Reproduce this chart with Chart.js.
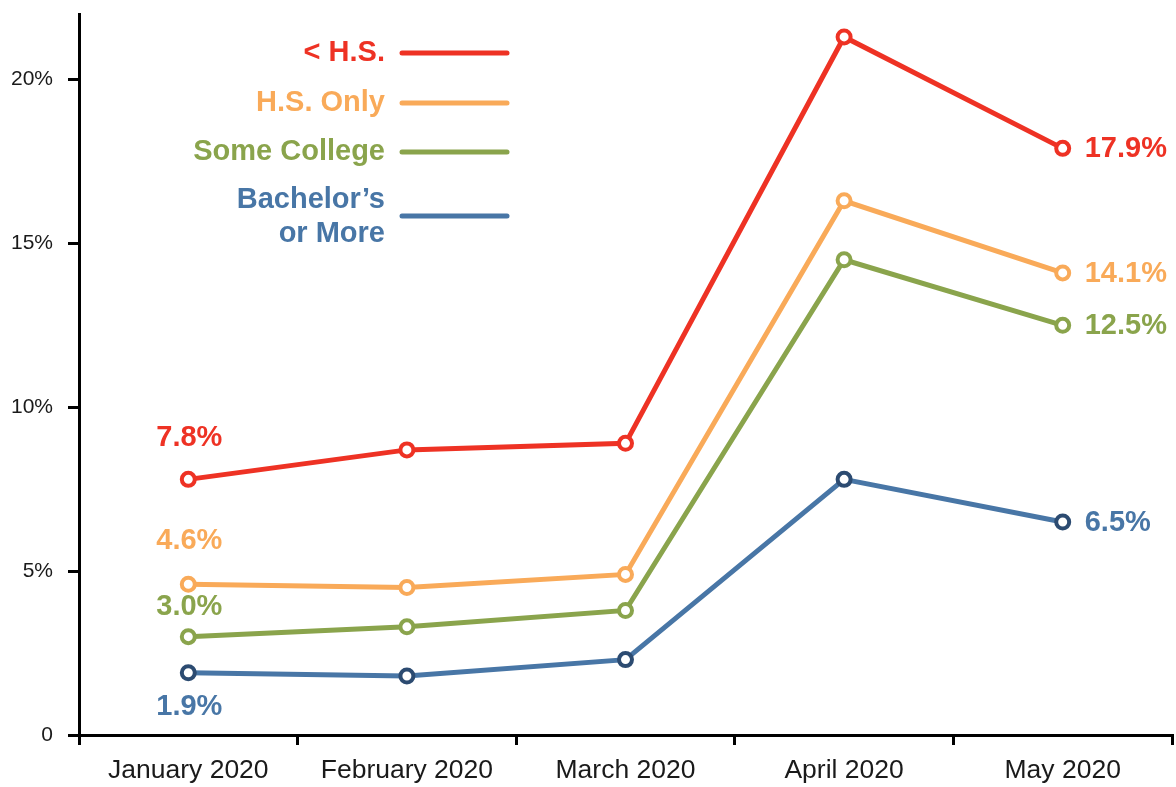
<!DOCTYPE html>
<html>
<head>
<meta charset="utf-8">
<script src="https://cdn.jsdelivr.net/npm/chart.js@4.4.1/dist/chart.umd.min.js"></script>
<style>
html,body{margin:0;padding:0;background:#fff;}
#wrap{width:1176px;height:787px;position:relative;}
</style>
</head>
<body>
<div id="wrap"><canvas id="c" width="1176" height="787"></canvas></div>
<script>
// ---- data ----
const months = ["January 2020", "February 2020", "March 2020", "April 2020", "May 2020"];
const seriesNames = ["< H.S.", "H.S. Only", "Some College", "Bachelor's or More"];
const lessHS = [7.8, 8.7, 8.9, 21.3, 17.9];
const hsOnly = [4.6, 4.5, 4.9, 16.3, 14.1];
const someCollege = [3.0, 3.3, 3.8, 14.5, 12.5];
const bachelors = [1.9, 1.8, 2.3, 7.8, 6.5];
const yTicks = [0, 5, 10, 15, 20];

// ---- styles ----
const colors = ["#ee3224", "#f9aa59", "#8aa44c", "#4876a6"];
const pointColors = ["#ee3224", "#f9aa59", "#8aa44c", "#2c4b71"];
const FONT = "'Liberation Sans', Arial, Helvetica, sans-serif";

const values = [lessHS, hsOnly, someCollege, bachelors];

// label placement relative to points (first = January, last = May)
const firstLabelDy = [-41, -43, -30, 34];
const lastLabelDx = 22;

const labelPlugin = {
  id: 'labels',
  afterDatasetsDraw(chart) {
    const ctx = chart.ctx;
    ctx.save();
    ctx.font = "bold 29px " + FONT;
    ctx.textBaseline = 'middle';
    chart.data.datasets.forEach((ds, i) => {
      const meta = chart.getDatasetMeta(i);
      const p0 = meta.data[0];
      const pn = meta.data[meta.data.length - 1];
      ctx.fillStyle = colors[i];
      ctx.textAlign = 'center';
      ctx.fillText(ds.data[0].toFixed(1) + '%', p0.x + 1, p0.y + firstLabelDy[i]);
      ctx.textAlign = 'left';
      const last = ds.data[ds.data.length - 1];
      ctx.fillText(last.toFixed(1) + '%', pn.x + lastLabelDx, pn.y + 1);
    });
    ctx.restore();
  }
};

const legendPlugin = {
  id: 'customLegend',
  afterDraw(chart) {
    const ctx = chart.ctx;
    const ca = chart.chartArea;
    const textRight = ca.left + 306;
    const lineX0 = ca.left + 323, lineX1 = ca.left + 428;
    const rows = [
      {lines: ["< H.S."], y: ca.top + 39},
      {lines: ["H.S. Only"], y: ca.top + 89},
      {lines: ["Some College"], y: ca.top + 138},
      {lines: ["Bachelor\u2019s", "or More"], y: ca.top + 202}
    ];
    ctx.save();
    ctx.font = "bold 29px " + FONT;
    ctx.textBaseline = 'middle';
    ctx.textAlign = 'right';
    rows.forEach((r, i) => {
      ctx.fillStyle = colors[i];
      if (r.lines.length === 1) {
        ctx.fillText(r.lines[0], textRight, r.y);
      } else {
        ctx.fillText(r.lines[0], textRight, r.y - 16);
        ctx.fillText(r.lines[1], textRight, r.y + 18);
      }
      ctx.strokeStyle = colors[i];
      ctx.lineWidth = 5;
      ctx.lineCap = 'round';
      ctx.beginPath();
      ctx.moveTo(lineX0, r.y);
      ctx.lineTo(lineX1, r.y);
      ctx.stroke();
    });
    ctx.restore();
  }
};

new Chart(document.getElementById('c'), {
  type: 'line',
  data: {
    labels: months,
    datasets: values.map((v, i) => ({
      label: seriesNames[i],
      data: v,
      order: i,
      borderColor: colors[i],
      borderWidth: 5,
      pointRadius: 6.5,
      pointBorderWidth: 4,
      pointBackgroundColor: '#ffffff',
      pointBorderColor: pointColors[i],
      pointHoverRadius: 6.5,
      tension: 0,
      clip: false
    }))
  },
  options: {
    responsive: false,
    animation: false,
    events: [],
    layout: {autoPadding: false, padding: {top: 14, right: 4, left: 0, bottom: 0}},
    plugins: {legend: {display: false}, tooltip: {enabled: false}},
    scales: {
      x: {
        type: 'category',
        offset: true,
        grid: {
          display: true,
          offset: true,
          drawOnChartArea: false,
          drawTicks: true,
          tickLength: 10,
          color: '#000',
          lineWidth: 3
        },
        border: {display: true, color: '#000', width: 3},
        ticks: {
          color: '#1a1a1a',
          font: {family: FONT, size: 26.5},
          padding: 10,
          maxRotation: 0,
          autoSkip: false
        },
        afterFit(scale) {
          scale.height = 52;
          scale.paddingLeft = 0;
          scale.paddingRight = 0;
        }
      },
      y: {
        min: 0,
        max: 22,
        grid: {
          display: true,
          drawOnChartArea: false,
          drawTicks: true,
          tickLength: 11,
          color: '#000',
          lineWidth: 3
        },
        border: {display: true, color: '#000', width: 3},
        afterBuildTicks(scale) { scale.ticks = yTicks.map(v => ({value: v})); },
        ticks: {
          color: '#1a1a1a',
          font: {family: FONT, size: 21},
          padding: 15,
          callback: (v) => v === 0 ? '0' : v + '%'
        },
        afterFit(scale) {
          scale.width = 79;
          scale.paddingTop = 0;
          scale.paddingBottom = 0;
        }
      }
    }
  },
  plugins: [labelPlugin, legendPlugin]
});
</script>
</body>
</html>
